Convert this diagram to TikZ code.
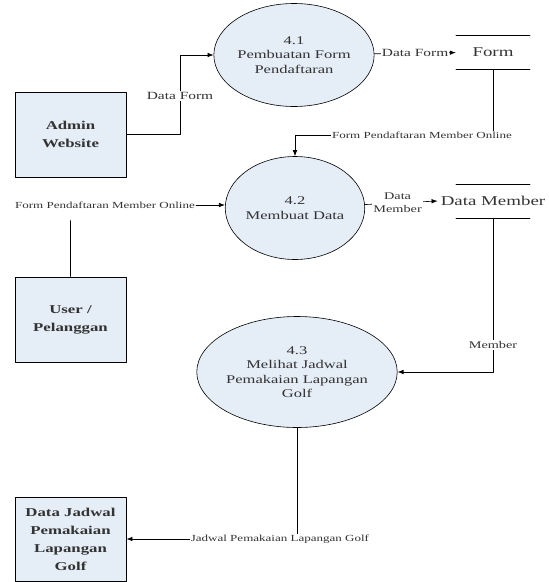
\documentclass[tikz,border=0pt]{standalone}
\usepackage{fontspec}
\setmainfont[FakeStretch=1.4]{Liberation Serif}
\usepackage{tikz}
\usetikzlibrary{arrows.meta,shapes.geometric}
\definecolor{eaeff8}{rgb}{0.9,0.93,0.97}
\definecolor{tttttt}{rgb}{0.2,0.2,0.2}

\begin{document}
\begin{tikzpicture}[line cap=round,line join=round,>={Latex[length=6pt,width=4.5pt]},x=1pt,y=-1pt,
	proc/.style={ellipse,draw,fill=eaeff8,line width=0.6pt,inner sep=0pt,align=center,text=tttttt,font=\fontsize{11.8}{14.5}\selectfont},
	ent/.style={rectangle,draw,fill=eaeff8,line width=0.9pt,minimum width=111pt,minimum height=85pt,align=center,text=tttttt,font=\bfseries\fontsize{12}{18}\selectfont},
	store/.style={minimum width=74pt,minimum height=34pt,inner sep=0pt,text=tttttt,font=\fontsize{13.5}{15}\selectfont},
	lbl/.style={fill=white,inner sep=1pt,text=tttttt,font=\fontsize{9.3}{11}\selectfont},
	flow/.style={->,line width=0.6pt}]
	\useasboundingbox (0,0) rectangle (549,582);
	% processes
	\node[proc,minimum width=128pt,minimum height=103pt] (p41) at (294,55) {4.1\\Pembuatan Form\\Pendaftaran};
	\node[proc,minimum width=130pt,minimum height=103pt] (p42) at (295,208) {4.2\\Membuat Data};
	\node[proc,minimum width=142pt,minimum height=111pt] (p43) at (297,372) {4.3\\Melihat Jadwal\\Pemakaian Lapangan\\Golf};
	% entities
	\node[ent] (admin) at (70.5,134.5) {Admin\\Website};
	\node[ent] (user) at (70.5,319.5) {User /\\Pelanggan};
	\node[ent,minimum height=84pt] (jadwal) at (70.5,539) {Data Jadwal\\Pemakaian\\Lapangan\\Golf};
	% data stores
	\node[store] (form) at (493,52) {Form};
	\draw[line width=0.6pt] ([xshift=-37pt]form.north) -- ([xshift=37pt]form.north);
	\draw[line width=0.6pt] ([xshift=-37pt]form.south) -- ([xshift=37pt]form.south);
	\node[store] (dm) at (493,201) {Data Member};
	\draw[line width=0.6pt] ([xshift=-37pt]dm.north) -- ([xshift=37pt]dm.north);
	\draw[line width=0.6pt] ([xshift=-37pt]dm.south) -- ([xshift=37pt]dm.south);
	% flows
	\draw[flow] (admin.east) -- ++(54,0) |- (p41.west);
	\node[lbl,font=\fontsize{11}{13}\selectfont] (lForm1) at (180,96) {Data Form};
	\draw[flow] (p41) -- (form) node[lbl,midway,font=\fontsize{11}{13}\selectfont] (lForm2) {Data Form};
	\draw[flow] (form.south) -- ++(0,66) -| (p42.north);
	\node[lbl] (lOnline1) at (422,135) {Form Pendaftaran Member Online};
	\node[lbl,fill=none] (lOnline2) at (105,205) {Form Pendaftaran Member Online};
	\draw[line width=0.6pt] (user.north) -- ++(0,-56);
	\draw[flow] (lOnline2.east) -- (lOnline2.east -| p42.west);
	\draw[flow] (p42) -- ([xshift=-3pt]dm.west) node[lbl,pos=0.45,align=center,font=\fontsize{10.2}{13}\selectfont] (lMember1) {Data\\Member};
	\draw[flow] (dm.south) |- (p43.east);
	\node[lbl,font=\fontsize{10.2}{12}\selectfont] (lMember2) at (493,345) {Member};
	\draw[flow] (p43.south) |- (jadwal.east) node[lbl,pos=0.55] (lJadwal) {Jadwal Pemakaian Lapangan Golf};
\end{tikzpicture}
\end{document}
